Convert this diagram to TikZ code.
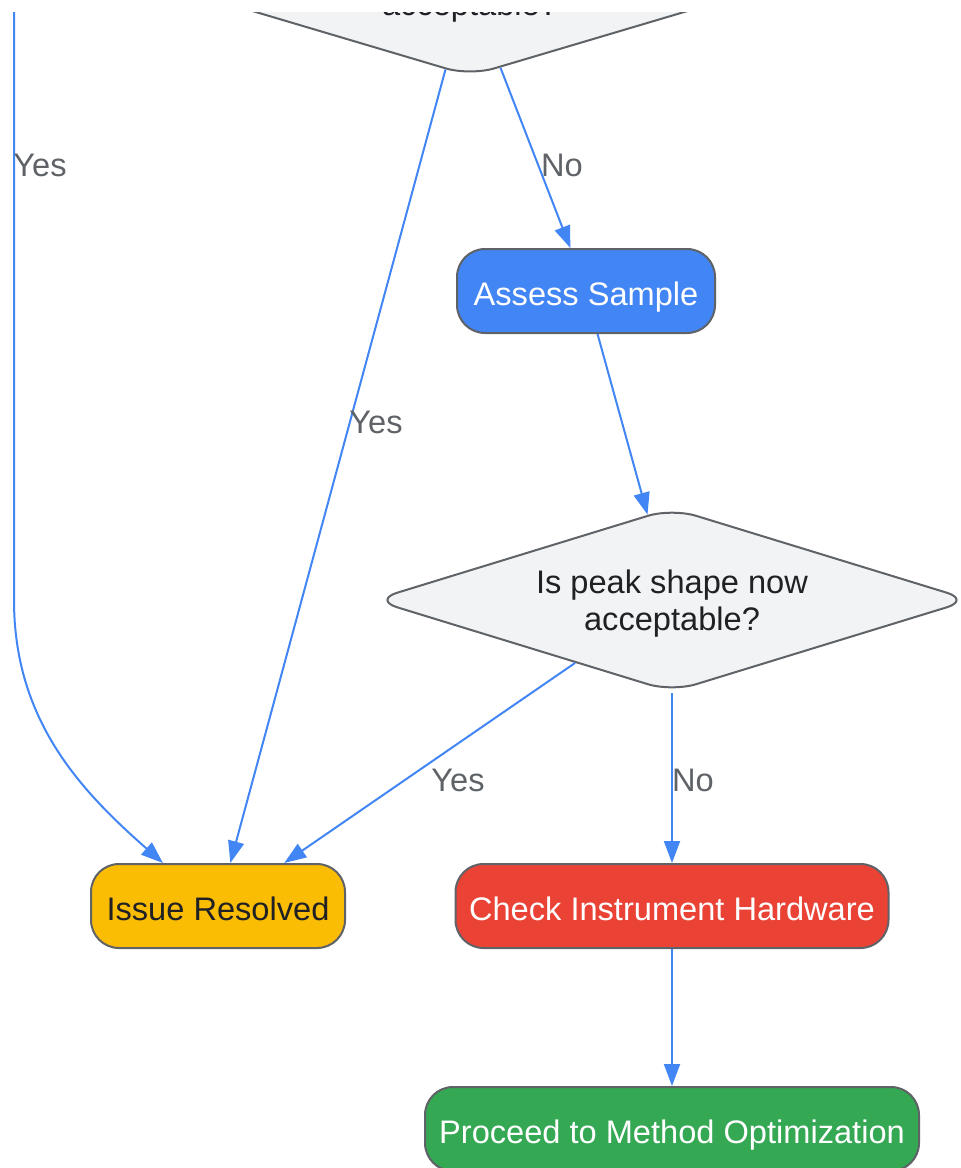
\documentclass[tikz,border=0pt]{standalone}
\usepackage{fontspec}
\setmainfont{Liberation Sans}
\usetikzlibrary{arrows.meta, positioning, shapes.geometric}
\usepackage{xcolor}
\definecolor{gblue}{HTML}{4285F4}
\definecolor{gred}{HTML}{EA4335}
\definecolor{ggreen}{HTML}{34A853}
\definecolor{gyellow}{HTML}{FBBC04}
\definecolor{gfill}{HTML}{F1F3F4}
\definecolor{gborder}{HTML}{5F6368}
\definecolor{gtext}{HTML}{202124}
\definecolor{glabel}{HTML}{5F6368}

\begin{document}
\begin{tikzpicture}[x=1pt, y=-1pt, >={Triangle[length=22pt,width=16pt]}, font=\fontsize{32.6}{37}\selectfont]

		% Define block styles
		\tikzstyle{decision} = [diamond, draw=gborder, line width=2pt, fill=gfill, text=gtext, rounded corners=25pt, shape aspect=3.25, minimum width=598pt, minimum height=184pt, inner sep=0pt, text depth=0pt, align=center]
		\tikzstyle{process} = [rectangle, draw=gborder, line width=2pt, rounded corners=28pt, minimum height=84pt, inner sep=0pt, text height=28pt, text depth=0pt, text centered]
		\tikzstyle{arrowline} = [draw=gblue, line width=2pt, ->]
		\tikzstyle{edgelabel} = [text=glabel, inner sep=0pt]

		\useasboundingbox (0,0) rectangle (961,1168);
		\clip (0,12) rectangle (961,1168);

		% Nodes
		\node[decision, minimum width=618pt, shape aspect=3.36] (check1) at (470,-16) {\strut\\acceptable?};
		\coordinate (yesstart) at (14,0);
		\node[process, fill=gblue, text=white, minimum width=258pt] (assess) at (586,291) {Assess Sample};
		\node[decision] (check2) at (672,600) {Is peak shape now\\acceptable?};
		\node[process, fill=gyellow, text=gtext, minimum width=254pt] (resolved) at (218,906) {Issue Resolved};
		\node[process, fill=gred, text=white, minimum width=433pt] (hardware) at (672,906) {Check Instrument Hardware};
		\node[process, fill=ggreen, text=white, minimum width=494pt] (optimize) at (672,1129) {Proceed to Method Optimization};

		% Arrows
		\draw[arrowline] (check1.-70) -- (assess.110);
		\draw[arrowline] (check1.-106) -- (resolved.74);
		\draw[arrowline] (yesstart) -- (14,600) .. controls (14,720) and (80,790) .. (resolved.142);
		\draw[arrowline] (assess.-75) -- (check2.106);
		\draw[arrowline] (check2.213) -- (resolved.33);
		\draw[arrowline] (check2.south) -- (hardware.north);
		\draw[arrowline] (hardware.south) -- (optimize.north);

		% Labels
		\node[edgelabel] (yes1) at (40,165) {Yes};
		\node[edgelabel] (no1) at (562,165) {No};
		\node[edgelabel] (yes2) at (376,422) {Yes};
		\node[edgelabel] (yes3) at (458,780) {Yes};
		\node[edgelabel] (no2) at (693,780) {No};

\end{tikzpicture}
\end{document}
